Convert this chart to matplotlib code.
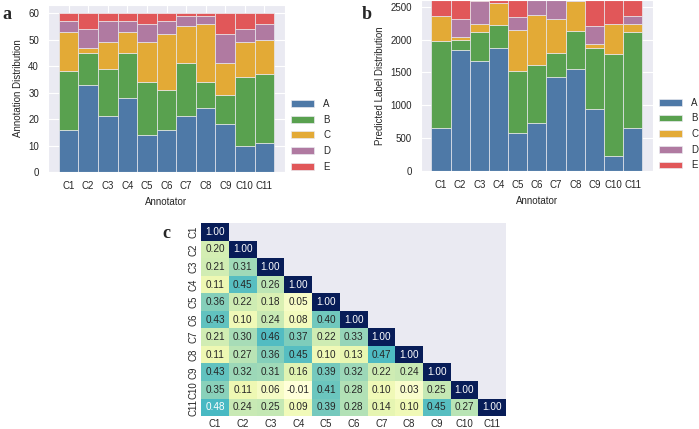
import numpy as np
import matplotlib
matplotlib.use('Agg')
import matplotlib.pyplot as plt
import seaborn as sns

sns.set_style('darkgrid')
plt.rcParams['font.family'] = ['Liberation Sans', 'DejaVu Sans']

annotators = ['C1', 'C2', 'C3', 'C4', 'C5', 'C6', 'C7', 'C8', 'C9', 'C10', 'C11']
labels = ['A', 'B', 'C', 'D', 'E']
colors = ['#4e79a7', '#59a14f', '#e3aa36', '#b07aa1', '#e15759']

# panel a: annotation counts per label
ann_A = [16, 33, 21, 28, 14, 16, 21, 24, 18, 10, 11]
ann_B = [22, 12, 18, 17, 20, 15, 20, 10, 11, 26, 26]
ann_C = [15, 2, 10, 8, 15, 21, 14, 22, 12, 13, 13]
ann_D = [4, 7, 8, 4, 7, 5, 4, 3, 11, 5, 6]
ann_E = [3, 6, 3, 3, 4, 3, 1, 1, 8, 6, 4]

# panel b: predicted label counts
pred_A = [660, 1840, 1680, 1870, 580, 730, 1430, 1550, 940, 230, 660]
pred_B = [1310, 160, 440, 350, 940, 880, 360, 580, 930, 1550, 1460]
pred_C = [380, 40, 120, 330, 630, 760, 520, 450, 60, 450, 120]
pred_D = [10, 270, 340, 10, 190, 225, 290, 20, 270, 5, 110]
pred_E = [240, 290, 20, 40, 260, 5, 0, 0, 400, 365, 250]

# panel c: lower triangle of annotator correlations
corr_rows = [
    [1.00],
    [0.20, 1.00],
    [0.21, 0.31, 1.00],
    [0.11, 0.45, 0.26, 1.00],
    [0.36, 0.22, 0.18, 0.05, 1.00],
    [0.43, 0.10, 0.24, 0.08, 0.40, 1.00],
    [0.21, 0.30, 0.46, 0.37, 0.22, 0.33, 1.00],
    [0.11, 0.27, 0.36, 0.45, 0.10, 0.13, 0.47, 1.00],
    [0.43, 0.32, 0.31, 0.16, 0.39, 0.32, 0.22, 0.24, 1.00],
    [0.35, 0.11, 0.06, -0.01, 0.41, 0.28, 0.10, 0.03, 0.25, 1.00],
    [0.48, 0.24, 0.25, 0.09, 0.39, 0.28, 0.14, 0.10, 0.45, 0.27, 1.00],
]

fs = 7
fig = plt.figure(figsize=(6.99, 4.29), dpi=100)


def stacked(ax, series, ylabel, anchor_y):
    x = np.arange(len(annotators))
    bottom = np.zeros(len(annotators))
    for vals, lab, col in zip(series, labels, colors):
        ax.bar(x, vals, width=1.0, bottom=bottom, color=col, label=lab,
               edgecolor='#e8e8ee', linewidth=0.5)
        bottom += np.array(vals)
    ax.set_xticks(x)
    ax.set_xticklabels(annotators, fontsize=fs)
    ax.tick_params(axis='y', labelsize=fs, pad=3)
    ax.tick_params(axis='x', pad=3)
    ax.set_xlabel('Annotator', fontsize=fs, labelpad=4)
    ax.set_ylabel(ylabel, fontsize=fs, labelpad=4)
    ax.legend(loc='upper left', bbox_to_anchor=(0.99, anchor_y), fontsize=fs,
              frameon=False, labelspacing=0.58, handlelength=2.3,
              handletextpad=1.0)


ax1 = fig.add_axes([0.0687, 0.599, 0.339, 0.389])
stacked(ax1, [ann_A, ann_B, ann_C, ann_D, ann_E], 'Annotation Distribution', 0.49)
ax1.set_yticks([0, 10, 20, 30, 40, 50, 60])

ax2 = fig.add_axes([0.602, 0.601, 0.332, 0.399])
stacked(ax2, [pred_A, pred_B, pred_C, pred_D, pred_E], 'Predicted Label Distribution', 0.48)

n = len(annotators)
corr = np.full((n, n), np.nan)
for i, row in enumerate(corr_rows):
    for j, v in enumerate(row):
        corr[i, j] = v
        corr[j, i] = v
mask = np.triu(np.ones((n, n), dtype=bool), k=1)

ax3 = fig.add_axes([0.288, 0.03, 0.436, 0.45])
sns.heatmap(corr, mask=mask, cmap='YlGnBu', annot=True, fmt='.2f', cbar=False,
            annot_kws={'fontsize': 7.2}, xticklabels=annotators,
            yticklabels=annotators, ax=ax3)
ax3.grid(False)
ax3.tick_params(labelsize=fs, length=0, pad=2)
ax3.set_yticklabels(annotators, rotation=90, va='center')

fig.text(0.003, 0.985, 'a', fontsize=13, fontweight='bold', family='Liberation Serif', va='top')
fig.text(0.517, 0.985, 'b', fontsize=13, fontweight='bold', family='Liberation Serif', va='top')
fig.text(0.233, 0.475, 'c', fontsize=13, fontweight='bold', family='Liberation Serif', va='top')

fig.savefig('out.png', dpi=100)
